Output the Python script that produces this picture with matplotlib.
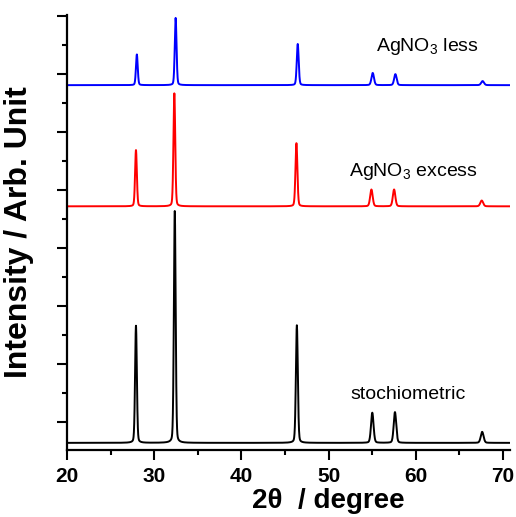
import numpy as np
import matplotlib
matplotlib.use('Agg')
import matplotlib.pyplot as plt
from matplotlib.ticker import MultipleLocator

plt.rcParams['font.family'] = ['Liberation Sans', 'DejaVu Sans']
plt.rcParams['mathtext.fontset'] = 'custom'
plt.rcParams['mathtext.rm'] = 'Liberation Sans'
plt.rcParams['mathtext.it'] = 'Liberation Sans:italic'

# peak positions (2theta), heights and widths for each sample, plus vertical offset
stoich_pos = [27.9, 32.35, 46.35, 55.0, 57.6, 67.6]
stoich_h = [2.02, 4.0, 2.03, 0.52, 0.53, 0.19]
stoich_off = -0.36

excess_pos = [27.9, 32.3, 46.3, 54.9, 57.5, 67.55]
excess_h = [0.97, 1.95, 1.09, 0.29, 0.29, 0.10]
excess_off = 3.72

less_pos = [28.0, 32.45, 46.45, 55.05, 57.65, 67.65]
less_h = [0.53, 1.16, 0.71, 0.21, 0.19, 0.07]
less_off = 5.81

fwhm = [0.24, 0.24, 0.26, 0.34, 0.34, 0.38]

tth = np.linspace(20, 70.8, 4000)

def pattern(pos, h, off):
    y = np.zeros_like(tth) + off
    for p, a, w in zip(pos, h, fwhm):
        s = w / 2.355
        g = np.exp(-0.5 * ((tth - p) / s) ** 2)
        l = 1.0 / (1.0 + ((tth - p) / (w / 2)) ** 2)
        y += a * (0.8 * g + 0.2 * l)
    return y

fig = plt.figure(figsize=(5.16, 5.17), dpi=100)
ax = fig.add_axes([0.130, 0.1296, 0.8585, 0.8414])

ax.plot(tth, pattern(stoich_pos, stoich_h, stoich_off), color='black', lw=1.4)
ax.plot(tth, pattern(excess_pos, excess_h, excess_off), color='#ff0000', lw=1.4)
ax.plot(tth, pattern(less_pos, less_h, less_off), color='#0000ff', lw=1.4)

ax.set_xlim(20, 70.8)
ax.set_ylim(-0.483, 7.02)

ax.spines['top'].set_visible(False)
ax.spines['right'].set_visible(False)
ax.spines['left'].set_linewidth(1.6)
ax.spines['bottom'].set_linewidth(1.6)

ax.xaxis.set_major_locator(MultipleLocator(10))
ax.xaxis.set_minor_locator(MultipleLocator(5))
ax.yaxis.set_major_locator(MultipleLocator(1))
ax.yaxis.set_minor_locator(MultipleLocator(0.5))
ax.tick_params(which='major', direction='out', length=7, width=1.5)
ax.tick_params(which='minor', direction='out', length=3.5, width=1.5)
ax.tick_params(axis='y', labelleft=False)
ax.tick_params(axis='x', labelsize=15, pad=5)
for lab in ax.get_xticklabels():
    lab.set_fontweight('bold')

ax.set_xlabel('2θ  / degree', fontsize=20, fontweight='bold')
ax.xaxis.set_label_coords(0.589, -0.088)
ax.set_ylabel('Intensity / Arb. Unit', fontsize=23, fontweight='bold', labelpad=17)

ax.text(55.4, 6.48, r'AgNO$_3$ less', fontsize=14, va='center')
ax.text(52.3, 4.32, r'AgNO$_3$ excess', fontsize=14, va='center')
ax.text(52.5, 0.47, 'stochiometric', fontsize=14, va='center')

fig.savefig('out.png', dpi=100)
